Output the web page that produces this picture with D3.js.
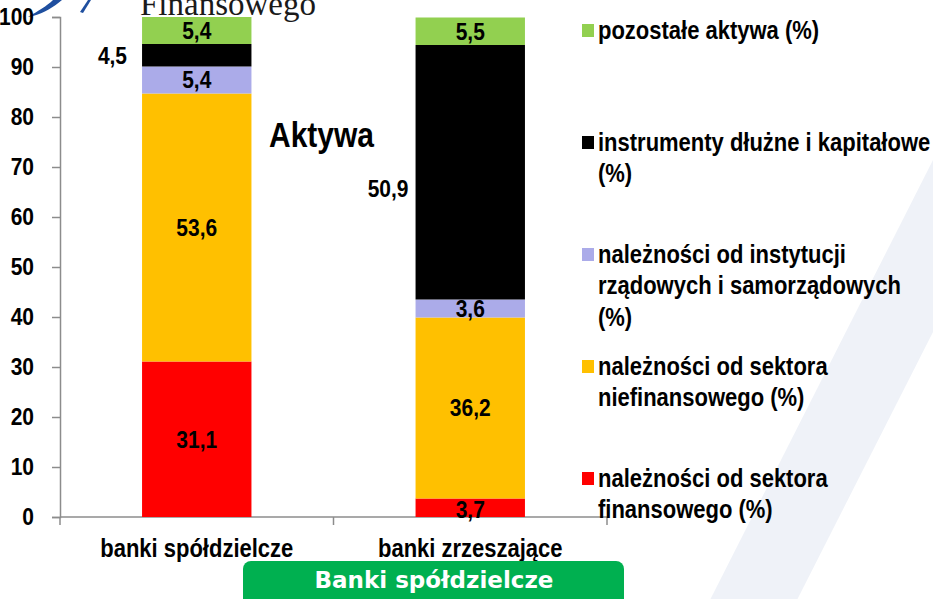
<!DOCTYPE html>
<html lang="pl">
<head>
<meta charset="utf-8">
<title>Aktywa - banki spółdzielcze</title>
<script src="https://cdn.jsdelivr.net/npm/d3@7"></script>
<style>
    html, body { margin: 0; padding: 0; background: #fff; }
    svg { display: block; }
    text { font-family: "Liberation Sans", Arial, sans-serif; font-weight: bold; fill: #000; }
</style>
</head>
<body>
<div id="chart"></div>
<script>
(function(window, document, undefined) {
    'use strict';

    // data
    var categories = ['banki spółdzielcze', 'banki zrzeszające'];
    var seriesKeys = ['finansowy', 'niefinansowy', 'rzadowy', 'instrumenty', 'pozostale'];
    var finansowy = [31.1, 3.7];
    var niefinansowy = [53.6, 36.2];
    var rzadowy = [5.4, 3.6];
    var instrumenty = [4.5, 50.9];
    var pozostale = [5.4, 5.5];
    var yTicks = [0, 10, 20, 30, 40, 50, 60, 70, 80, 90, 100];

    // legend, top to bottom
    var legendKeys = ['pozostale', 'instrumenty', 'rzadowy', 'niefinansowy', 'finansowy'];
    var legendLabels = {
        pozostale: ['pozostałe aktywa (%)'],
        instrumenty: ['instrumenty dłużne i kapitałowe', '(%)'],
        rzadowy: ['należności od instytucji', 'rządowych i samorządowych', '(%)'],
        niefinansowy: ['należności od sektora', 'niefinansowego (%)'],
        finansowy: ['należności od sektora', 'finansowego (%)']
    };

    var colors = {
        finansowy: '#ff0000',
        niefinansowy: '#ffc000',
        rzadowy: '#ababe9',
        instrumenty: '#000000',
        pozostale: '#92d050'
    };

    var width = 933,
        height = 599,
        stretch = 1.15;   // slide text is a bit taller than wide

    var values = {
        finansowy: finansowy,
        niefinansowy: niefinansowy,
        rzadowy: rzadowy,
        instrumenty: instrumenty,
        pozostale: pozostale
    };

    var rows = categories.map(function(c, i) {
        var r = { category: c };
        seriesKeys.forEach(function(k) { r[k] = values[k][i]; });
        return r;
    });

    var stacked = d3.stack().keys(seriesKeys)(rows);

    var pl = d3.formatLocale({ decimal: ',', thousands: ' ', grouping: [3], currency: ['', ''] });
    var fmt = pl.format('.1f');

    var svg = d3.select('#chart').append('svg')
        .attr('width', width)
        .attr('height', height);

    // put a text at x,y, stretched vertically
    function place(sel, px, py) {
        return sel.attr('transform', 'translate(' + px + ',' + py + ') scale(1,' + stretch + ')');
    }

    /**
     * + background decoration
     * =====================================================================
     */

    svg.append('path')
        .attr('d', 'M933,160 L933,332 L797,600 L710,600 Z')
        .attr('fill', '#eff2f8');

    // logo fragment
    svg.append('path')
        .attr('d', 'M28,17 C38,11 47,6 53,0 L62,0 C54,7 44,13 33,16 Z')
        .attr('fill', '#1f4f9f');
    svg.append('path')
        .attr('d', 'M80,12 L88,0 L91,0 L83,13 Z')
        .attr('fill', '#1f4f9f');

    svg.append('text')
        .attr('x', 140)
        .attr('y', 15)
        .style('font-family', '"Liberation Serif", "Times New Roman", serif')
        .style('font-weight', 'normal')
        .style('font-size', '33px')
        .style('fill', '#1a1a1a')
        .text('Finansowego');

    /* = background decoration */

    /**
     * + scales & axes
     * =====================================================================
     */

    var x = d3.scaleBand()
        .domain(categories)
        .range([60, 607])
        .paddingInner(0.6)
        .paddingOuter(0.3);

    var y = d3.scaleLinear()
        .domain([0, 100])
        .range([517, 17]);

    var axisColor = '#8c8c8c';

    var yAxis = svg.append('g')
        .attr('transform', 'translate(60,0)')
        .call(d3.axisLeft(y).tickValues(yTicks).tickSize(8).tickPadding(18).tickFormat(d3.format('d')));
    yAxis.select('.domain').attr('stroke', axisColor).attr('stroke-width', 1.5);
    yAxis.selectAll('.tick line').attr('stroke', axisColor).attr('stroke-width', 1.5);
    yAxis.selectAll('.tick text')
        .style('font-size', '21px')
        .style('font-family', '"Liberation Sans", Arial, sans-serif')
        .style('font-weight', 'bold')
        .attr('fill', '#000')
        .attr('transform', 'scale(1,' + stretch + ')');

    // x axis: line at 0, ticks on band boundaries
    var bounds = [60].concat(categories.map(function(c) { return x(c) + x.bandwidth() + x.step() * 0.3; }));
    var xAxis = svg.append('g').attr('class', 'x-axis');
    xAxis.append('line')
        .attr('x1', 60).attr('x2', 607)
        .attr('y1', y(0)).attr('y2', y(0))
        .attr('stroke', axisColor).attr('stroke-width', 1.5);
    xAxis.selectAll('.xtick').data(bounds).enter().append('line')
        .attr('x1', function(d) { return d; }).attr('x2', function(d) { return d; })
        .attr('y1', y(0)).attr('y2', y(0) + 8)
        .attr('stroke', axisColor).attr('stroke-width', 1.5);
    xAxis.selectAll('.xlabel').data(categories).enter().append('text')
        .attr('text-anchor', 'middle')
        .style('font-size', '22px')
        .text(function(d) { return d; })
        .each(function(d) { place(d3.select(this), x(d) + x.bandwidth() / 2, 557); });

    /* = scales & axes */

    /**
     * + bars
     * =====================================================================
     */

    var layers = svg.append('g').selectAll('g.layer')
        .data(stacked).enter().append('g')
        .attr('class', 'layer')
        .attr('fill', function(d) { return colors[d.key]; });

    layers.selectAll('rect')
        .data(function(d) { return d; })
        .enter().append('rect')
        .attr('x', function(d) { return x(d.data.category); })
        .attr('width', x.bandwidth())
        .attr('y', function(d) { return y(d[1]); })
        .attr('height', function(d) { return y(d[0]) - y(d[1]); });

    // value labels; the debt-instrument labels sit left of the bars
    var outsideDx = [-15, -7],
        outsideDy = [0, 16];

    stacked.forEach(function(layer) {
        layer.forEach(function(d, i) {
            var mid = (y(d[0]) + y(d[1])) / 2,
                cx = x(d.data.category) + x.bandwidth() / 2,
                t = svg.append('text')
                    .style('font-size', '21px')
                    .attr('dy', '0.35em')
                    .text(fmt(d.data[layer.key]));
            if (layer.key === 'instrumenty') {
                t.attr('text-anchor', 'end');
                place(t, x(d.data.category) + outsideDx[i], mid + outsideDy[i]);
            } else {
                t.attr('text-anchor', 'middle');
                place(t, cx, mid + (layer.key === 'finansowy' && i === 1 ? 2 : 0));
            }
        });
    });

    place(svg.append('text')
        .style('font-size', '30px')
        .text('Aktywa'), 269, 147);

    /* = bars */

    /**
     * + legend
     * =====================================================================
     */

    var legend = svg.append('g').selectAll('g')
        .data(legendKeys).enter().append('g')
        .attr('transform', function(d, i) { return 'translate(582,' + (39 + i * 112) + ')'; });

    legend.append('rect')
        .attr('x', 0).attr('y', -15)
        .attr('width', 12).attr('height', 13)
        .attr('fill', function(d) { return colors[d]; });

    legend.append('text')
        .style('font-size', '22px')
        .attr('transform', 'scale(1,' + stretch + ')')
        .selectAll('tspan')
        .data(function(d) { return legendLabels[d]; })
        .enter().append('tspan')
        .attr('x', 16)
        .attr('y', function(d, i) { return i * 31.5 / stretch; })
        .text(function(d) { return d; });

    /* = legend */

    /**
     * + button
     * =====================================================================
     */

    svg.append('rect')
        .attr('x', 243).attr('y', 561)
        .attr('width', 381).attr('height', 60)
        .attr('rx', 8)
        .attr('fill', '#00b050');

    svg.append('text')
        .attr('x', 434)
        .attr('y', 588)
        .attr('text-anchor', 'middle')
        .style('font-family', '"DejaVu Sans", Verdana, sans-serif')
        .style('font-size', '23px')
        .style('fill', '#fff')
        .text('Banki spółdzielcze');

    /* = button */

})(window, document);
</script>
</body>
</html>
